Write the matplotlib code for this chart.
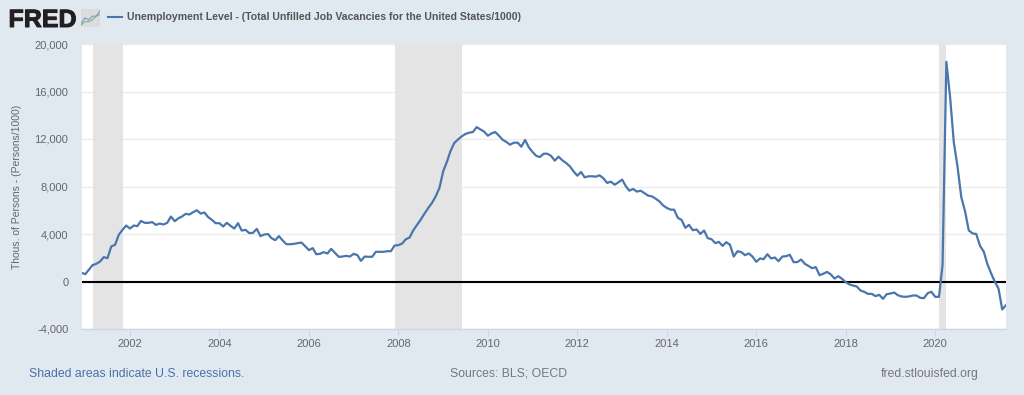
import matplotlib
matplotlib.use("Agg")
import matplotlib.pyplot as plt
import matplotlib.dates as mdates
import matplotlib.patheffects as pe
import pandas as pd

plt.rcParams['font.family'] = ['Liberation Sans', 'DejaVu Sans']

# monthly values, thousands of persons
values_2000 = [730]
values_2001 = [620, 1010, 1375, 1490, 1680, 2050, 1960, 2950, 3090, 3930, 4350, 4715]
values_2002 = [4460, 4715, 4660, 5100, 4940, 4940, 5000, 4770, 4880, 4800, 4940, 5470]
values_2003 = [5080, 5330, 5470, 5700, 5640, 5840, 6000, 5720, 5810, 5420, 5190, 4910]
values_2004 = [4910, 4630, 4940, 4690, 4460, 4910, 4290, 4350, 4070, 4100, 4430, 3820]
values_2005 = [3960, 3990, 3650, 3480, 3820, 3450, 3140, 3140, 3170, 3230, 3280, 2975]
values_2006 = [2640, 2810, 2300, 2330, 2470, 2360, 2750, 2410, 2080, 2100, 2160, 2100]
values_2007 = [2330, 2220, 1740, 2100, 2080, 2080, 2500, 2500, 2500, 2550, 2550, 3030]
values_2008 = [3060, 3200, 3550, 3700, 4300, 4750, 5200, 5710, 6190, 6610, 7170, 7870]
values_2009 = [9280, 10100, 10960, 11660, 11950, 12220, 12420, 12530, 12590, 13000, 12810, 12620]
values_2010 = [12280, 12480, 12590, 12280, 11940, 11750, 11520, 11690, 11690, 11350, 11920, 11300]
values_2011 = [10900, 10570, 10480, 10760, 10760, 10570, 10180, 10510, 10200, 9980, 9700, 9280]
values_2012 = [8910, 9220, 8770, 8860, 8860, 8830, 8940, 8690, 8300, 8410, 8150, 8350]
values_2013 = [8580, 8010, 7650, 7790, 7570, 7650, 7450, 7230, 7170, 6980, 6750, 6410]
values_2014 = [6190, 6050, 6050, 5350, 5190, 4520, 4770, 4320, 4380, 4010, 4290, 3650]
values_2015 = [3560, 3230, 3340, 3000, 3310, 3090, 2100, 2550, 2470, 2220, 2360, 2100]
values_2016 = [1660, 1940, 1880, 2300, 1940, 2020, 1710, 2100, 2130, 2250, 1630, 1630]
values_2017 = [1850, 1490, 1320, 1120, 1210, 530, 650, 810, 590, 250, 450, 225]
values_2018 = [-60, -250, -340, -420, -760, -870, -1040, -1040, -1235, -1120, -1460, -1070]
values_2019 = [-1010, -930, -1150, -1260, -1290, -1260, -1180, -1180, -1375, -1400, -980, -870]
values_2020 = [-1290, -1290, 1400, 18500, 15600, 11700, 9700, 7100, 5900, 4300, 4050, 4000]
values_2021 = [3000, 2500, 1500, 700, 0, -600, -2350, -2000]

values = (values_2000 + values_2001 + values_2002 + values_2003 + values_2004 + values_2005
          + values_2006 + values_2007 + values_2008 + values_2009 + values_2010 + values_2011
          + values_2012 + values_2013 + values_2014 + values_2015 + values_2016 + values_2017
          + values_2018 + values_2019 + values_2020 + values_2021)
dates = pd.date_range("2000-12-01", periods=len(values), freq="MS")

recessions = [("2001-03-01", "2001-11-01"), ("2007-12-01", "2009-06-01"), ("2020-02-01", "2020-04-01")]
y_ticks = [-4000, 0, 4000, 8000, 12000, 16000, 20000]
x_years = list(range(2002, 2021, 2))

W, H = 1024, 395
bg = "#e1e9f0"
text_grey = "#666666"

fig = plt.figure(figsize=(W / 100, H / 100), dpi=100, facecolor=bg)
ax = fig.add_axes([81.5 / W, 1 - 329 / H, 924.5 / W, 285 / H])
ax.set_facecolor("white")

for start, end in recessions:
    ax.axvspan(pd.Timestamp(start), pd.Timestamp(end), color="#e4e4e4", lw=0, zorder=2)
ax.axhline(0, color="black", lw=1.5, zorder=3)
ax.plot(dates, values, color="#4a76ac", lw=1.6, zorder=4, solid_joinstyle="round")

ax.set_xlim(dates[0], dates[-1])
ax.set_ylim(-4000, 20000)
ax.set_yticks(y_ticks)
ax.set_yticklabels([f"{v:,}" for v in y_ticks])
ax.set_xticks([pd.Timestamp(f"{y}-01-01") for y in x_years])
ax.xaxis.set_major_formatter(mdates.DateFormatter("%Y"))
ax.grid(axis='y', color="#ececec", lw=1, zorder=1)
ax.set_axisbelow(True)
for side in ['top', 'right', 'left']:
    ax.spines[side].set_visible(False)
ax.spines['bottom'].set_color("#ccd6eb")
ax.spines['bottom'].set_linewidth(1)
ax.tick_params(axis='y', length=0, pad=9.5, labelsize=8, labelcolor=text_grey)
ax.tick_params(axis='x', length=5, width=0.8, color="#ccd6eb", pad=2, labelsize=8, labelcolor=text_grey)

fig.text(17 / W, 1 - 187 / H, "Thous. of Persons - (Persons/1000)", rotation=90, ha='center', va='center',
         fontsize=7.5, color=text_grey)

# header
fig.text(8.5 / W, 1 - 27 / H, "FRED", fontsize=18, fontweight='bold', color="#231f20", ha='left', va='baseline',
         path_effects=[pe.withStroke(linewidth=0.7, foreground="#231f20")])
icon = fig.add_axes([81 / W, 1 - 27 / H, 19 / W, 18 / H])
icon.set_facecolor("#d9dde0")
icon.set_xticks([])
icon.set_yticks([])
for s in icon.spines.values():
    s.set_visible(False)
icon.plot([0, 2, 4, 6, 8, 10], [2, 5, 4, 6, 6, 9], color="#6f9bc8", lw=0.8)
icon.plot([0, 2, 4, 6, 8, 10], [1, 3, 3, 4, 6, 7], color="#8fae6a", lw=0.8)
icon.set_xlim(0, 10)
icon.set_ylim(0, 10)

legend_line = plt.Line2D([108 / W, 122 / W], [1 - 17 / H, 1 - 17 / H], transform=fig.transFigure,
                         color="#4a76ac", lw=1.5)
fig.add_artist(legend_line)
fig.text(127 / W, 1 - 17 / H, "Unemployment Level - (Total Unfilled Job Vacancies for the United States/1000)",
         fontsize=7.55, fontweight='bold', color="#555555", ha='left', va='center')

# footer
fig.text(29 / W, 1 - 377 / H, "Shaded areas indicate U.S. recessions.", fontsize=8.8, color="#4a70a8",
         ha='left', va='baseline')
fig.text(450 / W, 1 - 377 / H, "Sources: BLS; OECD", fontsize=8.8, color="#777777", ha='left', va='baseline')
fig.text(979 / W, 1 - 377 / H, "fred.stlouisfed.org", fontsize=8.8, color="#777777", ha='right', va='baseline')

fig.savefig("out.png", dpi=100, facecolor=bg)
